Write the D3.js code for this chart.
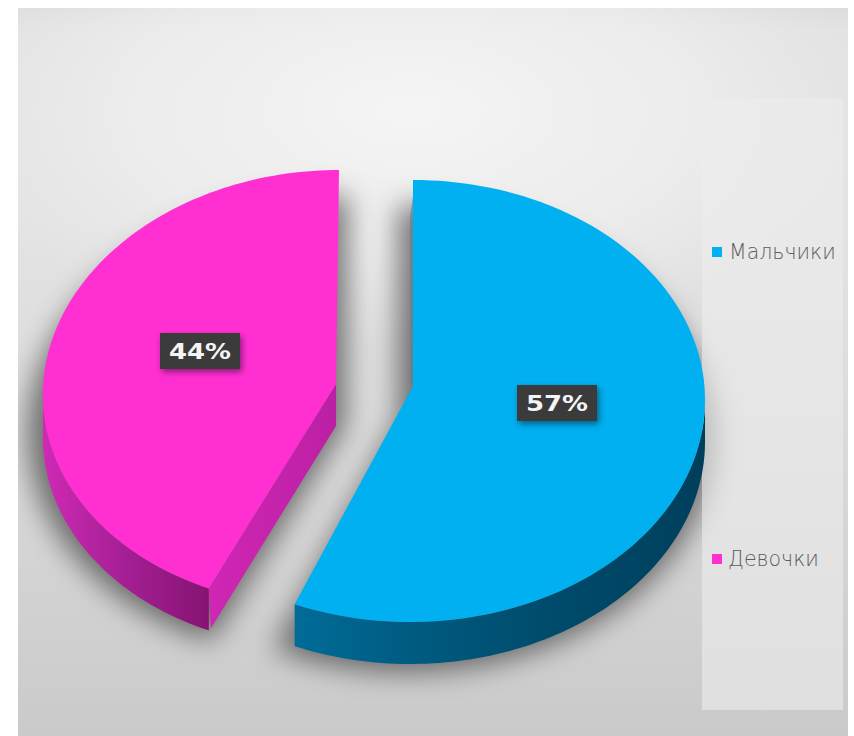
<!DOCTYPE html>
<html lang="ru">
<head>
<meta charset="utf-8">
<script src="https://cdn.jsdelivr.net/npm/d3@7/dist/d3.min.js"></script>
<style>
html, body { margin: 0; padding: 0; background: #fff; }
svg { display: block; }
</style>
</head>
<body>
<svg id="chart" width="854" height="736"></svg>
<script>
// Share of pupils by gender, shown as an exploded 3D-style pie
const categories = ["Мальчики", "Девочки"];
const percentages = [57, 44];
const sliceColors = ["#00b0f0", "#ff2fd2"];
const wallStops = [
  [["0", "#006c98"], ["0.3", "#005a80"], ["0.65", "#004a6a"], ["1", "#003f5c"]],
  [["0", "#cf2ab4"], ["0.5", "#a41f94"], ["1", "#861472"]]
];

const width = 854, height = 736;
const svg = d3.select("#chart");
const defs = svg.append("defs");

const frame = { x: 18, y: 8, w: 830, h: 728 };
const depth = 42;
// Each slice has its own apex, ellipse and a small perspective shear
const sliceGeometry = [
  { ax: 413, ay: 386, cx: 411.5, cy: 401, rx: 293.5, ry: 221, shear: 1.5 },
  { ax: 336, ay: 384, cx: 330, cy: 388, rx: 287, ry: 218, shear: 9 }
];

// Backdrop: a vertical grey ramp with a soft highlight near the top
const ramp = defs.append("linearGradient").attr("id", "backdrop")
  .attr("x1", 0).attr("y1", 0).attr("x2", 0).attr("y2", 1);
[["0", "#dcdcdc"], ["0.03", "#e2e2e2"], ["0.3", "#e3e3e3"], ["0.65", "#d8d8d8"], ["1", "#cacaca"]]
  .forEach(([o, c]) => ramp.append("stop").attr("offset", o).attr("stop-color", c));
const glow = defs.append("radialGradient").attr("id", "glow")
  .attr("gradientUnits", "userSpaceOnUse")
  .attr("cx", 410).attr("cy", 110).attr("r", 480)
  .attr("gradientTransform", "translate(410,110) scale(1,0.5) translate(-410,-110)");
glow.append("stop").attr("offset", "0").attr("stop-color", "#f8f8f8").attr("stop-opacity", 0.85);
glow.append("stop").attr("offset", "0.6").attr("stop-color", "#f2f2f2").attr("stop-opacity", 0.6);
glow.append("stop").attr("offset", "1").attr("stop-color", "#eeeeee").attr("stop-opacity", 0);

const clipFrame = defs.append("clipPath").attr("id", "frame-clip");
clipFrame.append("rect").attr("x", frame.x).attr("y", frame.y).attr("width", frame.w).attr("height", frame.h);

svg.append("rect").attr("x", frame.x).attr("y", frame.y).attr("width", frame.w).attr("height", frame.h).attr("fill", "url(#backdrop)");
svg.append("rect").attr("x", frame.x).attr("y", frame.y).attr("width", frame.w).attr("height", frame.h).attr("fill", "url(#glow)");

const shadowBlur = defs.append("filter").attr("id", "pie-shadow")
  .attr("x", "-20%").attr("y", "-20%").attr("width", "140%").attr("height", "140%");
shadowBlur.append("feGaussianBlur").attr("stdDeviation", 14);

const labelShadow = defs.append("filter").attr("id", "label-shadow")
  .attr("x", "-30%").attr("y", "-30%").attr("width", "160%").attr("height", "170%");
labelShadow.append("feDropShadow").attr("dx", 2).attr("dy", 3).attr("stdDeviation", 3)
  .attr("flood-color", "#000").attr("flood-opacity", 0.45);

// Pie layout runs clockwise from twelve o'clock, blue slice first
const arcs = d3.pie().sort(null).startAngle(0).endAngle(2 * Math.PI)(percentages);

// Projects a pie angle onto the slice's tilted, slightly sheared ellipse
const project = (g, angle) => [
  g.cx + g.rx * Math.sin(angle) + g.shear * Math.cos(angle),
  g.cy - g.ry * Math.cos(angle)
];

function topPath(g, a) {
  const n = 120;
  const pts = [[g.ax, g.ay]].concat(
    d3.range(n + 1).map(i => project(g, a.startAngle + (a.endAngle - a.startAngle) * i / n)));
  return d3.line()(pts) + "Z";
}

// Outer wall is only visible over the lower half of the ellipse
function wallPath(g, a) {
  const lo = Math.max(a.startAngle, Math.PI / 2);
  const hi = Math.min(a.endAngle, 3 * Math.PI / 2);
  const n = 90;
  const rim = d3.range(n + 1).map(i => project(g, lo + (hi - lo) * i / n));
  const lower = rim.slice().reverse().map(([x, y]) => [x, y + depth]);
  return d3.line()(rim.concat(lower)) + "Z";
}

// Blurred silhouettes sit behind both slices
const shadows = svg.append("g").attr("clip-path", "url(#frame-clip)").append("g").attr("filter", "url(#pie-shadow)");
arcs.forEach((a, i) => {
  const g = sliceGeometry[i];
  shadows.append("path")
    .attr("d", topPath(g, a))
    .attr("transform", "translate(-3,38)")
    .attr("fill", "#000").attr("stroke", "#000").attr("stroke-width", 24).attr("opacity", 0.5);
});

// Legend panel is drawn under the slices
svg.append("rect").attr("x", 702).attr("y", 98).attr("width", 141).attr("height", 612)
  .attr("fill", "#ececec").attr("opacity", 0.6);

const slices = svg.append("g");

arcs.forEach((a, i) => {
  const g = sliceGeometry[i];
  const lo = Math.max(a.startAngle, Math.PI / 2);
  const hi = Math.min(a.endAngle, 3 * Math.PI / 2);
  const [x0] = project(g, hi);
  const [x1] = project(g, lo);
  const left = Math.min(x0, x1), right = Math.max(x0, x1);
  const grad = defs.append("linearGradient").attr("id", `wall-${i}`)
    .attr("gradientUnits", "userSpaceOnUse")
    .attr("x1", left).attr("y1", 0).attr("x2", right).attr("y2", 0);
  wallStops[i].forEach(([o, c]) => grad.append("stop").attr("offset", o).attr("stop-color", c));

  // Cut faces: the pink one faces the viewer, the blue one shows as a sliver
  if (i === 1) {
    const corner = project(g, a.startAngle);
    const face = [[g.ax, g.ay], corner, [corner[0] + 2, corner[1] + depth - 2], [g.ax, g.ay + depth]];
    const faceGrad = defs.append("linearGradient").attr("id", "face-1")
      .attr("gradientUnits", "userSpaceOnUse")
      .attr("x1", corner[0]).attr("y1", 0).attr("x2", g.ax).attr("y2", 0);
    faceGrad.append("stop").attr("offset", "0").attr("stop-color", "#d026b4");
    faceGrad.append("stop").attr("offset", "1").attr("stop-color", "#bb20a4");
    slices.append("path").attr("d", wallPath(g, a)).attr("fill", `url(#wall-${i})`);
    slices.append("path").attr("d", d3.line()(face) + "Z").attr("fill", "url(#face-1)");
  } else {
    const sliver = [[g.ax, g.ay - 2], [g.ax, g.ay - 190], [g.ax - 3, g.ay - 170], [g.ax - 3, g.ay - 2]];
    slices.append("path").attr("d", d3.line()(sliver) + "Z").attr("fill", "#5d8096").attr("opacity", 0.6);
    slices.append("path").attr("d", wallPath(g, a)).attr("fill", `url(#wall-${i})`);
  }

  slices.append("path").attr("d", topPath(g, a)).attr("fill", sliceColors[i]);
});

// Value labels
const labelBoxes = [{ x: 557, y: 403 }, { x: 200, y: 351 }];
const labels = svg.append("g");
percentages.forEach((v, i) => {
  const c = labelBoxes[i];
  const lg = labels.append("g").attr("transform", `translate(${c.x},${c.y})`);
  lg.append("rect").attr("x", -40).attr("y", -18).attr("width", 80).attr("height", 36)
    .attr("fill", "#3a3a3a").attr("filter", "url(#label-shadow)");
  lg.append("text").attr("text-anchor", "middle").attr("y", 8)
    .attr("font-family", "'DejaVu Sans', sans-serif").attr("font-weight", 700)
    .attr("font-size", 21.5).attr("fill", "#f4f4f4")
    .attr("textLength", 62).attr("lengthAdjust", "spacingAndGlyphs")
    .text(`${v}%`);
});

// Legend entries
const legendRows = [
  { marker: 247, text: 252, x: 729 },
  { marker: 554, text: 559, x: 728 }
];
const legend = svg.append("g");
categories.forEach((name, i) => {
  const r = legendRows[i];
  legend.append("rect").attr("x", 712).attr("y", r.marker).attr("width", 10).attr("height", 10).attr("fill", sliceColors[i]);
  legend.append("text").attr("x", r.x).attr("y", r.text).attr("dy", "0.36em")
    .attr("font-family", "'DejaVu Sans', sans-serif").attr("font-weight", 200)
    .attr("font-size", 20.5).attr("fill", "#5c5c5c")
    .text(name);
});
</script>
</body>
</html>
